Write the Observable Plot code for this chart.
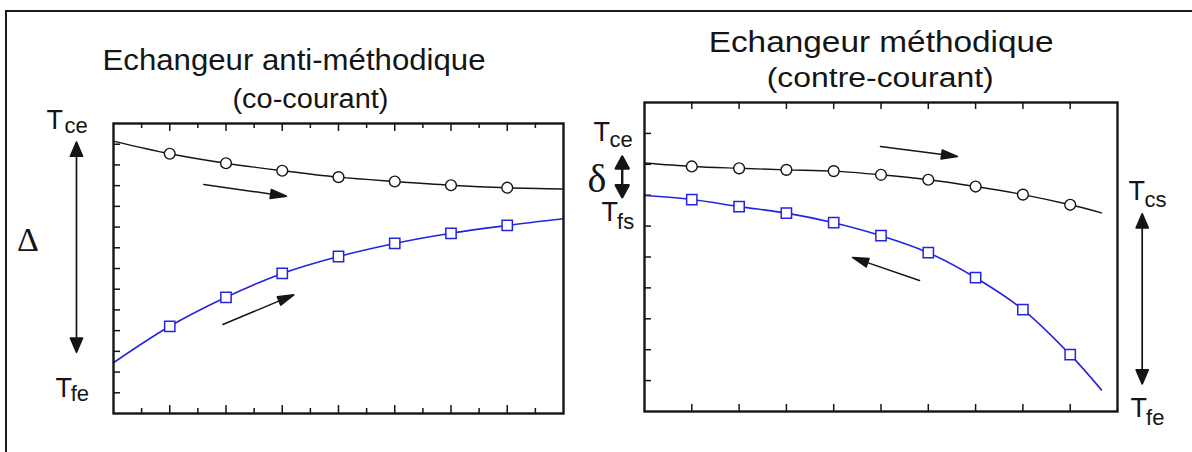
<!DOCTYPE html>
<html><head><meta charset="utf-8">
<script src="https://cdn.jsdelivr.net/npm/d3@7"></script>
<script src="https://cdn.jsdelivr.net/npm/@observablehq/plot@0.6"></script>
<style>
body{margin:0;background:#fff;}
#wrap{position:relative;width:1192px;height:452px;overflow:hidden;background:#fff;}
.panel{position:absolute;top:0;}
#box{position:absolute;left:5px;top:10px;width:1300px;height:600px;border-left:2px solid #1a1a1a;border-top:2px solid #1a1a1a;pointer-events:none;}
</style></head><body>
<div id="wrap">
  <div id="left" class="panel" style="left:0;width:570px"></div>
  <div id="right" class="panel" style="left:570px;width:622px"></div>
  <div id="box"></div>
</div>
<script>
// ---------- data ----------
// Left panel: co-courant (anti-méthodique)
const leftPos     = [0, 1, 2, 3, 4, 5, 6, 7, 8];
const leftHot     = [13.15, 12.54, 12.08, 11.72, 11.41, 11.20, 11.02, 10.90, 10.84];
const leftCold    = [2.45, 4.21, 5.61, 6.76, 7.58, 8.21, 8.70, 9.08, 9.40];
const leftMarkers = [1, 2, 3, 4, 5, 6, 7];
const leftMajorX  = [1, 2, 3, 4, 5, 6, 7];
const leftMinorX  = [0.5, 1.5, 2.5, 3.5, 4.5, 5.5, 6.5, 7.5];
const leftTicksY  = [1, 2, 3, 4, 5, 6, 7, 8, 9, 10, 11, 12, 13];

// Right panel: contre-courant (méthodique)
const rightPos     = [0, 1, 2, 3, 4, 5, 6, 7, 8, 9, 9.66];
const rightHot     = [8.04, 7.93, 7.87, 7.82, 7.78, 7.66, 7.50, 7.28, 7.02, 6.69, 6.43];
const rightCold    = [6.99, 6.86, 6.63, 6.42, 6.11, 5.69, 5.14, 4.33, 3.30, 1.84, 0.70];
const rightMarkers = [1, 2, 3, 4, 5, 6, 7, 8, 9];
const rightTicksX  = [1, 2, 3, 4, 5, 6, 7, 8, 9];
const rightTicksY  = [1, 2, 3, 4, 5, 6, 7, 8, 9];

// Titles and labels
const leftTitle     = [{t: "Echangeur anti-méthodique", x: 3.209, y: 16.56}];
const leftSubtitle  = [{t: "(co-courant)", x: 3.502, y: 14.76}];
const leftT         = [{t: "T", x: -1.19, y: 13.74}, {t: "T", x: -1.03, y: 0.79}];
const leftSub       = [{t: "ce", x: -0.87, y: 13.55}, {t: "fe", x: -0.76, y: 0.60}];
const leftGreek     = [{t: "Δ", x: -1.52, y: 7.84}];
const leftArrows    = [{x1: 1.605, y1: 11.055, x2: 3.076, y2: 10.49}, {x1: 1.943, y1: 4.297, x2: 3.205, y2: 5.73}];
const leftDouble    = [{x1: -0.658, y1: 2.96, x2: -0.658, y2: 13.10}];

const rightTitle    = [{t: "Echangeur méthodique", x: 5.004, y: 11.63}];
const rightSubtitle = [{t: "(contre-courant)", x: 4.983, y: 10.50}];
const rightT        = [{t: "T", x: -1.078, y: 8.77}, {t: "T", x: -0.909, y: 6.18}, {t: "T", x: 10.233, y: 6.83}, {t: "T", x: 10.275, y: -0.184}];
const rightSub      = [{t: "ce", x: -0.74, y: 8.553}, {t: "fs", x: -0.581, y: 5.922}, {t: "cs", x: 10.571, y: 6.612}, {t: "fe", x: 10.603, y: -0.453}];
const rightGreek    = [{t: "δ", x: -1.004, y: 7.097}];
const rightArrows   = [{x1: 4.989, y1: 8.576, x2: 6.617, y2: 8.252}, {x1: 5.814, y1: 4.239, x2: 4.397, y2: 4.984}];
const rightDouble   = [{x1: 10.522, y1: 0.896, x2: 10.522, y2: 6.398}];
const rightSmallDouble = [{x1: -0.471, y1: 6.935, x2: -0.471, y2: 8.252}];

// ---------- helpers ----------
const INK = "#151515", BLUE = "#2424e0";
const rows = (pos, vals) => pos.map((p, i) => ({x: p, y: vals[i]}));
const marks = (pos, vals, keep) => rows(pos, vals).filter(d => keep.includes(d.x));

const headShape = (h, w) => ({draw(c, l) {
  c.moveTo(0, 0); c.lineTo(0, -l + h * 0.7);
  c.moveTo(-w, -l + h); c.lineTo(0, -l); c.lineTo(w, -l + h); c.closePath();
}});
const doubleShape = (h, w) => ({draw(c, l) {
  c.moveTo(0, -h * 0.7); c.lineTo(0, -l + h * 0.7);
  c.moveTo(-w, -l + h); c.lineTo(0, -l); c.lineTo(w, -l + h); c.closePath();
  c.moveTo(-w, -h); c.lineTo(0, 0); c.lineTo(w, -h); c.closePath();
}});
function vec(arr, sx, sy) {
  return arr.map(a => {
    const dx = sx(a.x2) - sx(a.x1), dy = sy(a.y2) - sy(a.y1);
    return {x: a.x1, y: a.y1, length: Math.hypot(dx, dy), rotate: Math.atan2(dx, -dy) * 180 / Math.PI};
  });
}
const txt = (data, o) => Plot.text(data, {x: "x", y: "y", text: "t", lineAnchor: "bottom", fill: INK, fontFamily: "Liberation Sans", ...o});

function fitText(svg, map) {
  svg.querySelectorAll("text").forEach(t => {
    const k = t.textContent;
    if (map[k]) { t.setAttribute("textLength", map[k]); t.setAttribute("lengthAdjust", "spacingAndGlyphs"); }
  });
}

// ---------- left panel ----------
{
  const W = 570, H = 452, mL = 113, mR = 7, mT = 123, mB = 39;
  const iw = W - mL - mR, ih = H - mT - mB;
  const sx = d3.scaleLinear([0, 8], [mL, W - mR]), sy = d3.scaleLinear([0, 14], [H - mB, mT]);
  const svg = Plot.plot({
    width: W, height: H, marginLeft: mL, marginRight: mR, marginTop: mT, marginBottom: mB,
    style: {background: "transparent", fontFamily: "Liberation Sans"},
    x: {domain: [0, 8], axis: null}, y: {domain: [0, 14], axis: null},
    length: {type: "identity"},
    marks: [
      Plot.ruleX(leftMajorX, {x: d => d, insetBottom: ih - 8, stroke: INK, strokeWidth: 1.5}),
      Plot.ruleX(leftMinorX, {x: d => d, insetBottom: ih - 5, stroke: INK, strokeWidth: 1.5}),
      Plot.ruleX(leftMajorX, {x: d => d, insetTop: ih - 8, stroke: INK, strokeWidth: 1.5}),
      Plot.ruleX(leftMinorX, {x: d => d, insetTop: ih - 5, stroke: INK, strokeWidth: 1.5}),
      Plot.ruleY(leftTicksY, {y: d => d, insetRight: iw - 7, stroke: INK, strokeWidth: 1.5}),
      Plot.line(rows(leftPos, leftHot), {x: "x", y: "y", curve: "catmull-rom", stroke: INK, strokeWidth: 1.4}),
      Plot.line(rows(leftPos, leftCold), {x: "x", y: "y", curve: "catmull-rom", stroke: BLUE, strokeWidth: 1.6}),
      Plot.dot(marks(leftPos, leftHot, leftMarkers), {x: "x", y: "y", r: 5.4, stroke: INK, fill: "white", strokeWidth: 1.4}),
      Plot.dot(marks(leftPos, leftCold, leftMarkers), {x: "x", y: "y", symbol: "square", r: 5.8, stroke: BLUE, fill: "white", strokeWidth: 1.5}),
      Plot.frame({stroke: INK, strokeWidth: 2.4}),
      Plot.vector(vec(leftArrows, sx, sy), {x: "x", y: "y", length: "length", rotate: "rotate", anchor: "start", shape: headShape(16, 4.5), stroke: INK, fill: INK, strokeWidth: 1.5}),
      Plot.vector(vec(leftDouble, sx, sy), {x: "x", y: "y", length: "length", rotate: "rotate", anchor: "start", shape: doubleShape(14, 6), stroke: INK, fill: INK, strokeWidth: 1.7}),
      txt(leftTitle, {fontSize: 30}),
      txt(leftSubtitle, {fontSize: 27}),
      txt(leftT, {fontSize: 27, textAnchor: "start"}),
      txt(leftSub, {fontSize: 22, textAnchor: "start"}),
      txt(leftGreek, {fontSize: 34, fontFamily: "Liberation Serif"})
    ]
  });
  fitText(svg, {"Echangeur anti-méthodique": 383, "(co-courant)": 156});
  document.getElementById("left").appendChild(svg);
}

// ---------- right panel ----------
{
  const W = 622, H = 452, mL = 74, mR = 75, mT = 102, mB = 41;
  const iw = W - mL - mR, ih = H - mT - mB;
  const sx = d3.scaleLinear([0, 10], [mL, W - mR]), sy = d3.scaleLinear([0, 10], [H - mB, mT]);
  const svg = Plot.plot({
    width: W, height: H, marginLeft: mL, marginRight: mR, marginTop: mT, marginBottom: mB,
    style: {background: "transparent", fontFamily: "Liberation Sans"},
    x: {domain: [0, 10], axis: null}, y: {domain: [0, 10], axis: null},
    length: {type: "identity"},
    marks: [
      Plot.ruleX(rightTicksX, {x: d => d, insetBottom: ih - 7, stroke: INK, strokeWidth: 1.5}),
      Plot.ruleX(rightTicksX, {x: d => d, insetTop: ih - 7, stroke: INK, strokeWidth: 1.5}),
      Plot.ruleY(rightTicksY, {y: d => d, insetRight: iw - 7, stroke: INK, strokeWidth: 1.5}),
      Plot.line(rows(rightPos, rightHot), {x: "x", y: "y", curve: "catmull-rom", stroke: INK, strokeWidth: 1.4}),
      Plot.line(rows(rightPos, rightCold), {x: "x", y: "y", curve: "catmull-rom", stroke: BLUE, strokeWidth: 1.6}),
      Plot.dot(marks(rightPos, rightHot, rightMarkers), {x: "x", y: "y", r: 5.4, stroke: INK, fill: "white", strokeWidth: 1.4}),
      Plot.dot(marks(rightPos, rightCold, rightMarkers), {x: "x", y: "y", symbol: "square", r: 5.8, stroke: BLUE, fill: "white", strokeWidth: 1.5}),
      Plot.frame({stroke: INK, strokeWidth: 2.4}),
      Plot.vector(vec(rightArrows, sx, sy), {x: "x", y: "y", length: "length", rotate: "rotate", anchor: "start", shape: headShape(16, 4.5), stroke: INK, fill: INK, strokeWidth: 1.5}),
      Plot.vector(vec(rightDouble, sx, sy), {x: "x", y: "y", length: "length", rotate: "rotate", anchor: "start", shape: doubleShape(14, 6), stroke: INK, fill: INK, strokeWidth: 1.7}),
      Plot.vector(vec(rightSmallDouble, sx, sy), {x: "x", y: "y", length: "length", rotate: "rotate", anchor: "start", shape: doubleShape(12, 6.5), stroke: INK, fill: INK, strokeWidth: 2.4}),
      txt(rightTitle, {fontSize: 30}),
      txt(rightSubtitle, {fontSize: 27}),
      txt(rightT, {fontSize: 27, textAnchor: "start"}),
      txt(rightSub, {fontSize: 22, textAnchor: "start"}),
      txt(rightGreek, {fontSize: 40, fontFamily: "Liberation Serif"})
    ]
  });
  fitText(svg, {"Echangeur méthodique": 345, "(contre-courant)": 227});
  document.getElementById("right").appendChild(svg);
}
</script>
</body></html>
